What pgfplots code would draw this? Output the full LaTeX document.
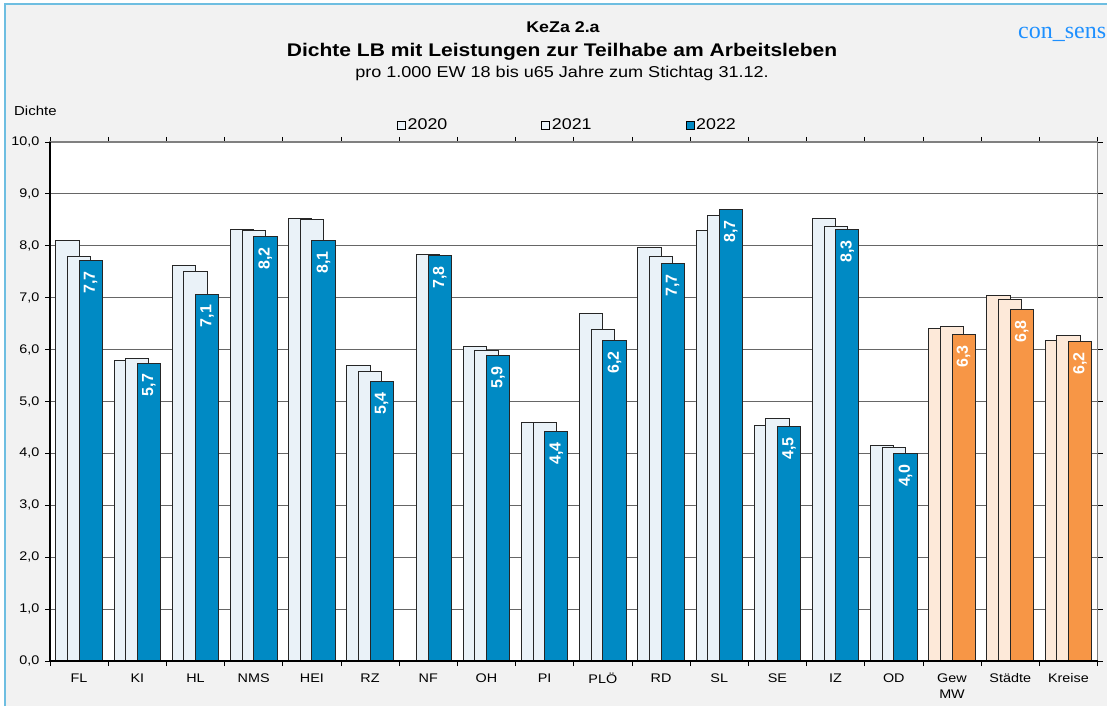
\documentclass[border=0pt]{standalone}
\usepackage{fontspec}
\setmainfont{Liberation Sans}[FakeStretch=1.15]
\newfontfamily\lblfont{Liberation Sans}
\newfontfamily\brandfont{Liberation Serif}
\usepackage{pgfplots}
\pgfplotsset{compat=1.18}

\definecolor{bgGray}{RGB}{242,242,242}
\definecolor{frameBlue}{RGB}{110,190,225}
\definecolor{barBlue}{RGB}{0,138,196}
\definecolor{barBlueLight}{RGB}{234,242,248}
\definecolor{barOrange}{RGB}{247,150,70}
\definecolor{barOrangeLight}{RGB}{253,233,217}
\definecolor{brandBlue}{RGB}{30,144,255}

\newcommand{\barlabel}{\rotatebox{90}{\lblfont\fontsize{16}{18}\selectfont\bfseries
    \pgfmathprintnumber[fixed, fixed zerofill, precision=1, use comma, assume math mode=true]{\pgfplotspointmeta}}}

\begin{document}
\begin{tikzpicture}[x=1pt,y=1pt]
\useasboundingbox (0,0) rectangle (1107,706);
\fill[bgGray] (5,0) rectangle (1107,702);
\draw[frameBlue, line width=1.5pt] (5,0) -- (5,702) -- (1107,702);

% titles
\node[anchor=base, font=\fontsize{15.5}{18}\selectfont\bfseries] at (563,673) {KeZa 2.a};
\node[anchor=base, font=\fontsize{18.3}{21}\selectfont\bfseries] at (562,649) {Dichte LB mit Leistungen zur Teilhabe am Arbeitsleben};
\node[anchor=base, font=\fontsize{15.7}{18}\selectfont] at (562,628) {pro 1.000 EW 18 bis u65 Jahre zum Stichtag 31.12.};
\node[anchor=base west, inner sep=0pt, text=brandBlue, font=\brandfont\fontsize{24}{26}\selectfont] at (1018,667) {con\_sens};
\node[anchor=base west, inner sep=0pt, font=\fontsize{13}{15}\selectfont] at (14,590) {Dichte};

\begin{axis}[
    at={(50pt,45pt)}, anchor=south west,
    width=1047.5pt, height=519pt, scale only axis,
    xmin=-0.5, xmax=17.5, ymin=0, ymax=10,
    axis background/.style={fill=white},
    xtick={0,...,17},
    xticklabels={FL,KI,HL,NMS,HEI,RZ,NF,OH,PI,PLÖ,RD,SL,SE,IZ,OD,{Gew\\MW},Städte,Kreise},
    minor xtick={-0.5,0.5,...,17.5},
    major x tick style={draw=none},
    ytick={0,1,...,10},
    tick align=outside,
    major tick length=5pt, minor tick length=5pt,
    tick style={black, line width=0.8pt},
    ymajorgrids,
    grid style={black!60, line width=1.2pt},
    axis line style={black!50, line width=1.3pt},
    x tick label style={align=center, font=\fontsize{12.5}{16.5}\selectfont, anchor=north, yshift=-4pt},
    y tick label style={font=\fontsize{12.5}{15}\selectfont, xshift=-2pt,
        /pgf/number format/.cd, fixed, fixed zerofill, precision=1, use comma, assume math mode=true},
    legend columns=3,
    legend style={at={(0.494,1.033)}, anchor=center, draw=none, fill=none,
        font=\fontsize{15.5}{18}\selectfont,
        /tikz/every even column/.append style={column sep=92pt}},
    legend image code/.code={\draw[#1, draw=black, line width=0.6pt] (0pt,-4pt) rectangle (8pt,4pt);},
    every axis plot/.append style={ybar, bar width=0.4, draw=black!85, line width=0.9pt},
    after end axis/.code={
        \draw[black, line width=1.2pt] (rel axis cs:0,1) -- (rel axis cs:0,0) -- (rel axis cs:1,0);
    },
]
% 2020
\addplot[fill=barBlueLight, bar shift=-0.2] coordinates {
    (0,8.11) (1,5.79) (2,7.62) (3,8.32) (4,8.52) (5,5.70) (7,6.06)
    (8,4.60) (9,6.69) (10,7.97) (11,8.30) (12,4.54) (13,8.52) (14,4.15)};
\addlegendentry{2020}
\addplot[fill=barOrangeLight, bar shift=-0.2, forget plot] coordinates {
    (15,6.40) (16,7.05) (17,6.18)};
% 2021
\addplot[fill=barBlueLight, bar shift=0] coordinates {
    (0,7.80) (1,5.83) (2,7.50) (3,8.29) (4,8.50) (5,5.58) (6,7.83) (7,5.98)
    (8,4.60) (9,6.38) (10,7.79) (11,8.59) (12,4.67) (13,8.38) (14,4.12)};
\addlegendentry{2021}
\addplot[fill=barOrangeLight, bar shift=0, forget plot] coordinates {
    (15,6.44) (16,6.97) (17,6.28)};
% 2022
\addplot[fill=barBlue, bar shift=0.2,
    nodes near coords=\barlabel,
    nodes near coords style={anchor=north, xshift=11.6pt, yshift=-7pt, text=white}]
    coordinates {
    (0,7.71) (1,5.74) (2,7.07) (3,8.18) (4,8.10) (5,5.38) (6,7.81) (7,5.88)
    (8,4.42) (9,6.17) (10,7.66) (11,8.70) (12,4.52) (13,8.31) (14,3.99)};
\addlegendentry{2022}
\addplot[fill=barOrange, bar shift=0.2, forget plot,
    nodes near coords=\barlabel,
    nodes near coords style={anchor=north, xshift=11.6pt, yshift=-7pt, text=white}]
    coordinates {
    (15,6.29) (16,6.77) (17,6.15)};
\end{axis}
\end{tikzpicture}
\end{document}
